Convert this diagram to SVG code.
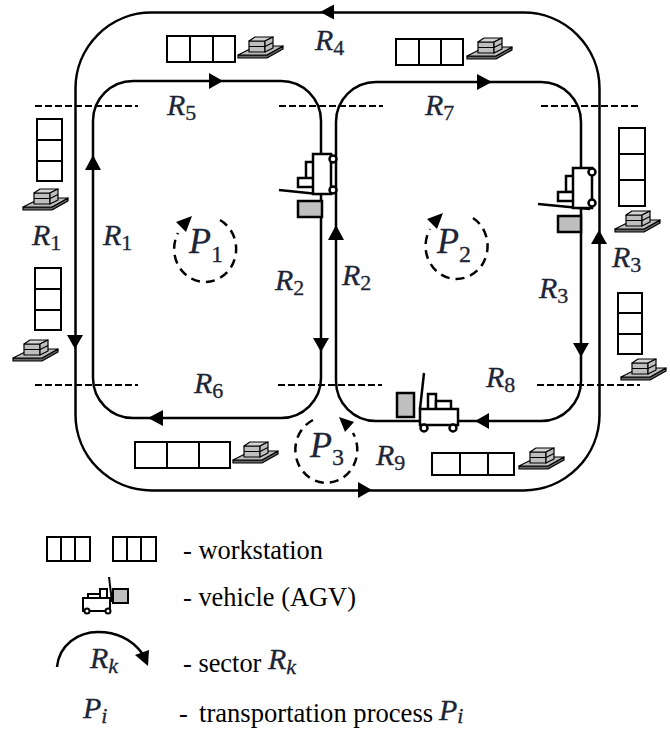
<svg xmlns="http://www.w3.org/2000/svg" width="670" height="729" viewBox="0 0 670 729">
<style>
.p{fill:none;stroke:#000;stroke-width:2.5}
.d{fill:none;stroke:#000;stroke-width:2;stroke-dasharray:7 3}
.c{fill:none;stroke:#000;stroke-width:2.5;stroke-dasharray:9 6}
.a{fill:#000;stroke:none}
.w{fill:#fff;stroke:#000;stroke-width:2}
.g{fill:#bfbfbf;stroke:#000;stroke-width:2.5}
.v{fill:#fff;stroke:#000;stroke-width:2.5}
.t{fill:#fff;stroke:#000;stroke-width:2}
text{font-family:"Liberation Serif","Times New Roman",serif;fill:#000}
.l{font-size:26.4px}
.m{font-size:30px;font-style:italic;fill:#1c2436;stroke:#1c2436;stroke-width:.3}
.big{font-size:36px}
.s{font-style:normal;font-size:22px}
.big .s{font-size:24px}
.si{font-style:italic;font-size:22px}
</style>
<defs>
<g id="pallet" stroke="#000" stroke-width="1.2" stroke-linejoin="round">
<path d="M0 19 L29 19 L45 10 L45 13 L29 22 L0 22 Z" fill="#666"/>
<path d="M0 19 L14 12 L36 10 L45 10 L29 19 Z" fill="#bfbfbf"/>
<path d="M11 5 L27 5 L27 16 L11 16 Z" fill="#bfbfbf"/>
<path d="M11 5 L17 1 L35 1 L27 5 Z" fill="#d4d4d4"/>
<path d="M27 5 L35 1 L35 12 L27 16 Z" fill="#bfbfbf"/>
<path d="M11 10.500 L27 10.500 L35 6.500" fill="none"/>
</g>
</defs>
<g id="connectors">
<rect class="p" x="75.500" y="12.500" width="524" height="478" rx="76" ry="76"/>
<rect class="p" x="93" y="81" width="228" height="337" rx="40" ry="40"/>
<rect class="p" x="336" y="82" width="245" height="339" rx="40" ry="40"/>
<path class="d" d="M35 106H138M279 106H383M541 106H640M35 385H138M278 385H382M537 385H640"/>
<path class="a" d="M320 12L334 4.500V19.500Z"/>
<path class="a" d="M223 81L209 73V89Z"/>
<path class="a" d="M492 82L477 74V90Z"/>
<path class="a" d="M93 155L85 170H101Z"/>
<path class="a" d="M75 349L67 335H83Z"/>
<path class="a" d="M581 357L573 343H589Z"/>
<path class="a" d="M599 230L591 244H607Z"/>
<path class="a" d="M321 352L313 338H329Z"/>
<path class="a" d="M336 225L328 240H344Z"/>
<path class="a" d="M475 421L489 413V429Z"/>
<path class="a" d="M148 418L163 410V426Z"/>
<path class="a" d="M372 490L358 482V498Z"/>
<path class="p" d="M57 667C59 645 78 632 98 632C118 632 132 640 142 653"/>
<path class="a" d="M148 666L135 655L149 650Z"/>
</g>
<g id="workstations">
<g id="ws-top-left"><rect class="w" x="167" y="36" width="68" height="26"/><path class="w" d="M190 36V62M213 36V62"/></g>
<g id="ws-top-right"><rect class="w" x="396" y="39" width="67" height="26"/><path class="w" d="M419 39V65M441 39V65"/></g>
<g id="ws-left-upper"><rect class="w" x="37" y="119" width="25" height="62"/><path class="w" d="M37 140H62M37 161H62"/></g>
<g id="ws-left-lower"><rect class="w" x="35" y="268" width="26" height="62"/><path class="w" d="M35 289H61M35 310H61"/></g>
<g id="ws-right-upper"><rect class="w" x="619" y="128" width="26" height="78"/><path class="w" d="M619 154H645M619 180H645"/></g>
<g id="ws-right-lower"><rect class="w" x="618" y="293" width="24" height="61"/><path class="w" d="M618 313H642M618 334H642"/></g>
<g id="ws-bottom-left"><rect class="w" x="135" y="442" width="95" height="26"/><path class="w" d="M167 442V468M199 442V468"/></g>
<g id="ws-bottom-right"><rect class="w" x="432" y="453" width="82" height="22"/><path class="w" d="M460 453V475M488 453V475"/></g>
<use href="#pallet" x="238" y="36"/>
<use href="#pallet" x="467" y="37"/>
<use href="#pallet" x="23" y="188"/>
<use href="#pallet" x="13" y="339"/>
<use href="#pallet" x="615" y="210"/>
<use href="#pallet" x="621" y="358"/>
<use href="#pallet" x="233" y="441"/>
<use href="#pallet" x="519" y="447"/>
</g>
<g id="vehicle-left">
<rect class="v" x="306" y="162" width="8" height="17"/>
<rect class="v" x="298" y="178" width="16" height="9"/>
<path class="p" d="M279 190L318 194"/>
<rect class="v" x="313" y="154" width="18" height="40"/>
<rect class="g" x="298" y="201" width="24" height="16"/>
<circle class="v" cx="333" cy="159" r="3.500"/><circle class="v" cx="333" cy="190" r="3.500"/>
</g>
<g id="vehicle-right">
<rect class="v" x="566" y="176" width="8" height="16"/>
<rect class="v" x="558" y="192" width="16" height="9"/>
<path class="p" d="M538 204L590 209"/>
<rect class="v" x="573" y="168" width="19" height="40"/>
<rect class="g" x="558" y="216" width="23" height="16"/>
<circle class="v" cx="592" cy="172" r="3.500"/><circle class="v" cx="592" cy="203" r="3.500"/>
</g>
<g id="vehicle-bottom">
<rect class="v" x="428" y="394" width="8" height="16"/>
<rect class="v" x="436" y="401" width="15" height="9"/>
<path class="p" d="M424 373L420 409"/>
<rect class="g" x="397" y="393" width="17" height="24"/>
<rect class="v" x="420" y="409" width="38" height="16"/>
<circle class="v" cx="424" cy="428" r="3.500"/><circle class="v" cx="453" cy="428" r="3.500"/>
</g>
<g id="process-1"><path class="c" d="M220 220A31 33 0 1 1 178 233"/><path class="a" d="M192 216L176 222L186 232Z"/><text class="m big" x="189" y="253">P<tspan class="s" dy="9">1</tspan></text></g>
<g id="process-2"><path class="c" d="M473 218A31 33 0 1 1 430 229"/><path class="a" d="M443 213L427 219L437 229Z"/><text class="m big" x="437" y="253">P<tspan class="s" dy="9">2</tspan></text></g>
<g id="process-3"><path class="c" d="M313 420A31 33 0 1 0 353 433"/><path class="a" d="M339 417L354 422L345 432Z"/><text class="m big" x="310" y="457">P<tspan class="s" dy="8">3</tspan></text></g>
<g id="labels">
<text class="m" x="32" y="245">R<tspan class="s" dy="5">1</tspan></text>
<text class="m" x="103" y="245">R<tspan class="s" dy="5">1</tspan></text>
<text class="m" x="275" y="290">R<tspan class="s" dy="5">2</tspan></text>
<text class="m" x="342" y="285">R<tspan class="s" dy="5">2</tspan></text>
<text class="m" x="612" y="267">R<tspan class="s" dy="5">3</tspan></text>
<text class="m" x="539" y="298">R<tspan class="s" dy="5">3</tspan></text>
<text class="m" x="315" y="50">R<tspan class="s" dy="5">4</tspan></text>
<text class="m" x="167" y="115">R<tspan class="s" dy="5">5</tspan></text>
<text class="m" x="194" y="393">R<tspan class="s" dy="5">6</tspan></text>
<text class="m" x="425" y="115">R<tspan class="s" dy="5">7</tspan></text>
<text class="m" x="486" y="387">R<tspan class="s" dy="5">8</tspan></text>
<text class="m" x="376" y="465">R<tspan class="s" dy="5">9</tspan></text>
</g>
<g id="legend">
<rect class="w" x="47" y="537" width="43" height="24"/><path class="w" d="M61 537V561M75 537V561"/>
<rect class="w" x="113" y="537" width="43" height="24"/><path class="w" d="M127 537V561M141 537V561"/>
<g id="legend-vehicle">
<rect class="t" x="100" y="589" width="7" height="9"/>
<rect class="t" x="88" y="594" width="12" height="5"/>
<path class="t" d="M109 577L112 602"/>
<rect class="t" x="113" y="589" width="15" height="14" style="fill:#bfbfbf"/>
<rect class="t" x="83" y="598" width="27" height="13"/>
<circle class="t" cx="87" cy="611" r="2.500"/><circle class="t" cx="108" cy="611" r="2.500"/>
</g>
<text class="l" x="183" y="559">- workstation</text>
<text class="l" x="183" y="606">- vehicle (AGV)</text>
<text class="l" x="183" y="672">- sector</text>
<text class="l" x="179" y="722">-</text>
<text class="l" x="199" y="722" style="font-size:26.6px">transportation process</text>
<text class="m" x="90" y="668">R<tspan class="si" dy="5">k</tspan></text>
<text class="m" x="268" y="669">R<tspan class="si" dy="5">k</tspan></text>
<text class="m" x="83" y="718">P<tspan class="si" dy="5">i</tspan></text>
<text class="m" x="439" y="720">P<tspan class="si" dy="3">i</tspan></text>
</g>
</svg>
